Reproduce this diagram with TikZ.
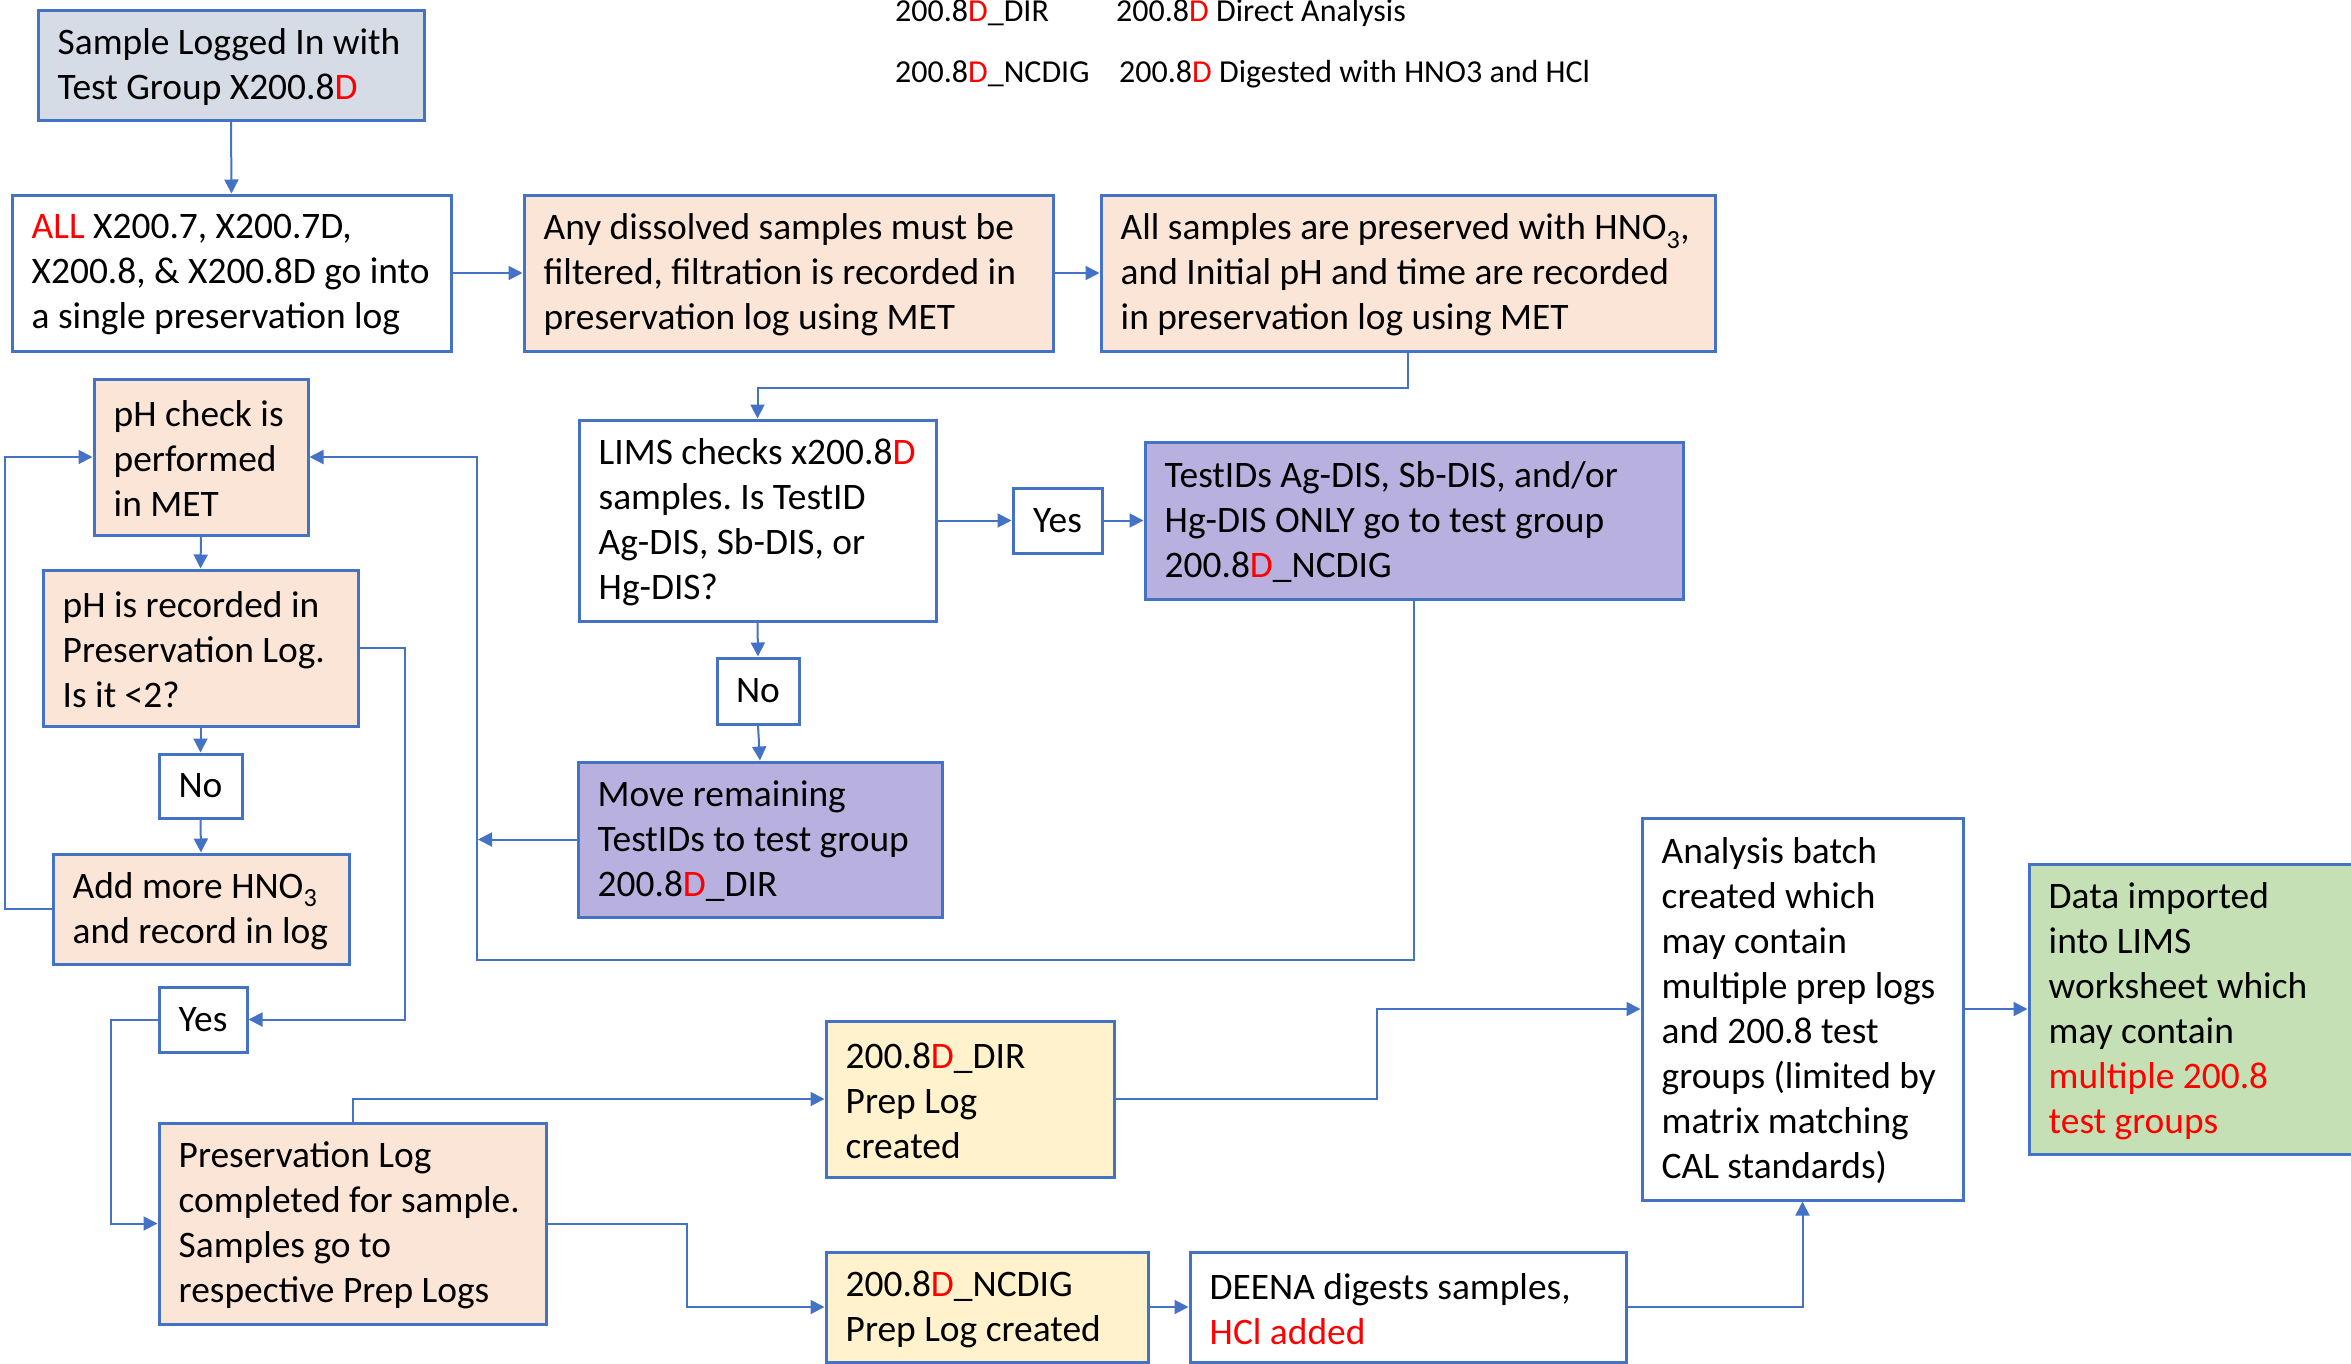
\documentclass[tikz,border=0pt]{standalone}
\usepackage{fontspec}
\setmainfont{Carlito}
\usetikzlibrary{arrows.meta}
\frenchspacing
\definecolor{bl}{RGB}{68,114,196}
\definecolor{grayfill}{RGB}{214,220,229}
\definecolor{peach}{RGB}{251,229,214}
\definecolor{lav}{RGB}{184,176,222}
\definecolor{ylw}{RGB}{255,242,204}
\definecolor{grn}{RGB}{197,224,180}
\definecolor{rd}{RGB}{255,0,0}
\newcommand{\rD}{\textcolor{rd}{D}}
\newcommand{\mkbox}[7]{%
  \node[boxst, fill=#2, minimum width={(#5)-(#3)}, minimum height={(#6)-(#4)}] (#1) at ({((#3)+(#5))/2},{((#4)+(#6))/2}) {};
  \node[txt, anchor=west] (#1-t) at ([xshift=21pt,yshift=-2pt]#1.west) {#7};}
\newcommand{\mkyn}[6]{%
  \node[boxst, fill=white, inner sep=0pt, minimum width={(#4)-(#2)}, minimum height={(#5)-(#3)}] (#1) at ({((#2)+(#4))/2},{((#3)+(#5))/2}) {#6};}
\begin{document}
\begin{tikzpicture}[x=1pt, y=-1pt,
  every node/.style={font=\fontsize{37.4}{45}\selectfont},
  boxst/.style={draw=bl, line width=3pt, inner sep=0pt},
  txt/.style={inner sep=0pt, align=left},
  arr/.style={draw=bl, line width=2pt, -{Triangle[length=14pt,width=14pt]}},
  lgd/.style={inner sep=0pt, anchor=base west, font=\fontsize{32}{40}\selectfont}]
\useasboundingbox (0,0) rectangle (2351,1363);
% legend
\node[lgd] (lg1a) at (895,21) {200.8\rD\_DIR};
\node[lgd] (lg1b) at (1116,21) {200.8\rD{} Direct Analysis};
\node[lgd] (lg2a) at (895,82) {200.8\rD\_NCDIG};
\node[lgd] (lg2b) at (1119,82) {200.8\rD{} Digested with HNO3 and HCl};
% boxes
\mkbox{A}{grayfill}{38}{10}{424}{120}{Sample Logged In with\\Test Group X200.8\rD}
\mkbox{B}{white}{12}{195}{451}{351}{\textcolor{rd}{ALL} X200.7, X200.7D,\\X200.8, \& X200.8D go into\\a single preservation log}
\mkbox{C}{peach}{524}{195}{1053}{351}{Any dissolved samples must be\\filtered, filtration is recorded in\\preservation log using MET}
\mkbox{D}{peach}{1101}{195}{1715}{351}{All samples are preserved with HNO\textsubscript{3},\\and Initial pH and time are recorded\\in preservation log using MET}
\mkbox{E}{peach}{94}{379}{308}{535}{pH check is\\performed\\in MET}
\mkbox{F}{peach}{43}{570}{358}{726}{pH is recorded in\\Preservation Log.\\Is it <2?}
\mkyn{NoL}{159}{754}{242}{818}{No}
\mkbox{G}{peach}{53}{854}{349}{964}{Add more HNO\textsubscript{3}\\and record in log}
\mkyn{YesL}{159}{987}{247}{1052}{Yes}
\mkbox{H}{peach}{159}{1123}{546}{1324}{Preservation Log\\completed for sample.\\Samples go to\\respective Prep Logs}
\mkbox{I}{white}{579}{420}{936}{621}{LIMS checks x200.8\rD\\samples. Is TestID\\Ag-DIS, Sb-DIS, or\\Hg-DIS?}
\mkyn{YesM}{1013}{488}{1102}{553}{Yes}
\mkbox{J}{lav}{1145}{442}{1683}{599}{TestIDs Ag-DIS, Sb-DIS, and/or\\Hg-DIS ONLY go to test group\\200.8\rD\_NCDIG}
\mkyn{NoM}{717}{658}{799}{724}{No}
\mkbox{K}{lav}{578}{762}{942}{917}{Move remaining\\TestIDs to test group\\200.8\rD\_DIR}
\mkbox{L}{ylw}{826}{1021}{1114}{1177}{200.8\rD\_DIR\\Prep Log\\created}
\mkbox{M}{ylw}{826}{1252}{1148}{1362}{200.8\rD\_NCDIG\\Prep Log created}
\mkbox{N}{white}{1190}{1252}{1626}{1362}{DEENA digests samples,\\\textcolor{rd}{HCl added}}
\mkbox{O}{white}{1642}{818}{1963}{1200}{Analysis batch\\created which\\may contain\\multiple prep logs\\and 200.8 test\\groups (limited by\\matrix matching\\CAL standards)}
\mkbox{P}{grn}{2029}{864}{2354}{1154}{Data imported\\into LIMS\\worksheet which\\may contain\\\textcolor{rd}{multiple 200.8}\\\textcolor{rd}{test groups}}
% helper coordinates
\coordinate (jx) at (477,960);
\coordinate (kx) at (478,839.5);
\coordinate (gx) at (5,909);
\coordinate (fx) at (405,648);
\coordinate (yx) at (111,1019.5);
\coordinate (hx) at (687,1223.5);
\coordinate (lx) at (1377,1099);
% connectors
\draw[arr] (A.south) -- (B.north);
\draw[arr] (B.east) -- (C.west);
\draw[arr] (C.east) -- (D.west);
\draw[arr] (D.south) -- ++(0,35) -| (I.north);
\draw[arr] (I.east) -- (YesM.west);
\draw[arr] (YesM.east) -- (J.west);
\draw[arr] (I.south) -- (NoM.north);
\draw[arr] (NoM.south) -- (K.north);
\draw[arr] (J.south) |- (jx) |- (E.east);
\draw[arr] (K.west) -- (kx);
\draw[arr] (E.south) -- (F.north);
\draw[arr] (F.south) -- (NoL.north);
\draw[arr] (NoL.south) -- (G.north);
\draw[arr] (G.west) -- (gx) |- (E.west);
\draw[arr] (F.east) -- (fx) |- (YesL.east);
\draw[arr] (YesL.west) -- (yx) |- (H.west);
\draw[arr] (H.north) |- (L.west);
\draw[arr] (H.east) -- (hx) |- (M.west);
\draw[arr] (M.east) -- (N.west);
\draw[arr] (L.east) -- (lx) |- (O.west);
\draw[arr] (O.east) -- (P.west);
\draw[arr] (N.east) -| (O.south);
\end{tikzpicture}
\end{document}
